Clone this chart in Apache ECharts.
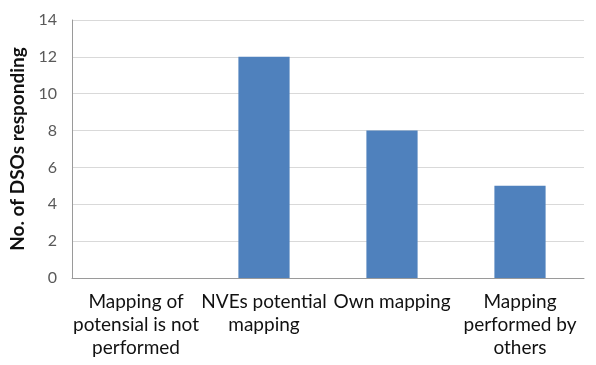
<!DOCTYPE html>
<html>
<head>
<meta charset="utf-8">
<script src="https://cdn.jsdelivr.net/npm/echarts@6/dist/echarts.min.js"></script>
<style>
html, body { margin: 0; padding: 0; background: #fff; }
#chart { width: 596px; height: 365px; }
</style>
</head>
<body>
<div id="chart"></div>
<script>
// Categories (line breaks as printed under the axis)
var categories = [
  'Mapping of\npotensial is not\nperformed',
  'NVEs potential\nmapping',
  'Own mapping',
  'Mapping\nperformed by\nothers'
];
var responses = [0, 12, 8, 5];
var yTicks = { min: 0, max: 14, interval: 2 };
var yTitle = 'No. of DSOs responding';

var chart = echarts.init(document.getElementById('chart'));
chart.setOption({
  animation: false,
  grid: { left: 70, right: 12, top: 20, bottom: 87 },
  xAxis: {
    type: 'category',
    data: categories,
    axisLine: { show: true, lineStyle: { color: '#9a9a9a', width: 1 } },
    axisTick: { show: false },
    axisLabel: {
      interval: 0,
      color: '#111',
      fontFamily: 'Lato',
      fontSize: 19,
      lineHeight: 23,
      margin: 12
    }
  },
  yAxis: {
    type: 'value',
    min: yTicks.min,
    max: yTicks.max,
    interval: yTicks.interval,
    name: yTitle,
    nameLocation: 'middle',
    nameGap: 45,
    nameTextStyle: { fontFamily: 'Lato', fontWeight: 'bold', fontSize: 19, color: '#111' },
    axisLine: { show: true, lineStyle: { color: '#9a9a9a', width: 1 } },
    axisTick: { show: false },
    axisLabel: { color: '#595959', fontFamily: 'Lato', fontSize: 16, margin: 15 },
    splitLine: { lineStyle: { color: '#d9d9d9', width: 1 } }
  },
  series: [{
    type: 'bar',
    data: responses,
    barWidth: '40%',
    itemStyle: { color: '#4f81bd' }
  }]
});
</script>
</body>
</html>
